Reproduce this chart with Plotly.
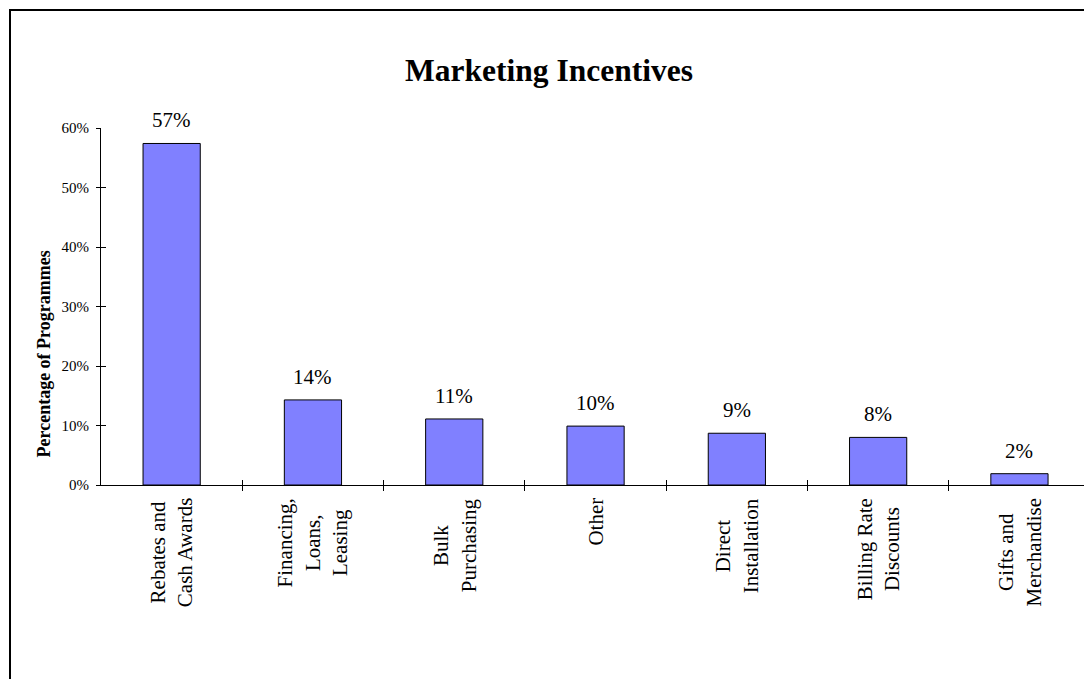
import plotly.graph_objects as go

# Share of programmes offering each kind of marketing incentive (%)
categories = [
    "Rebates and<br>Cash Awards",
    "Financing,<br>Loans,<br>Leasing",
    "Bulk<br>Purchasing",
    "Other",
    "Direct<br>Installation",
    "Billing Rate<br>Discounts",
    "Gifts and<br>Merchandise",
]
shares = [57.4, 14.3, 11.1, 9.9, 8.7, 8.0, 1.9]
y_ticks = [0, 10, 20, 30, 40, 50, 60]
y_tick_text = [f"{t}%" for t in y_ticks]

FONT = "Liberation Serif, Times New Roman, serif"
W, H = 1084, 679
ML, MR, MT, MB = 101, 0, 128, 194

positions = list(range(len(categories)))
boundaries = [p + 0.5 for p in positions]

fig = go.Figure()
fig.add_trace(go.Bar(
    x=positions, y=shares, width=0.405,
    marker=dict(color="#8080FF", line=dict(color="#000000", width=1)),
    hoverinfo="skip", showlegend=False,
))
# companion trace that carries the inner half of the crossing tick marks
fig.add_trace(go.Scatter(
    x=positions, y=shares, mode="none", xaxis="x2", yaxis="y2",
    hoverinfo="skip", showlegend=False,
))

annotations = []
for p, v in zip(positions, shares):
    annotations.append(dict(
        x=p, y=v, xref="x", yref="y", text=f"{v:.0f}%", showarrow=False,
        yanchor="bottom", yshift=9, font=dict(family=FONT, size=21, color="black"),
    ))
for p, c in zip(positions, categories):
    annotations.append(dict(
        x=p, y=0, xref="x", yref="y", text=c, showarrow=False, textangle=-90,
        align="center", xanchor="center", yanchor="top", yshift=-11,
        font=dict(family=FONT, size=21, color="black"),
    ))
plot_w = W - ML - MR
plot_h = H - MT - MB
annotations.append(dict(
    x=(43 - ML) / plot_w, y=(H - MB - 354.5) / plot_h, xref="paper", yref="paper",
    text="<b>Percentage of Programmes</b>", showarrow=False, textangle=-90,
    xanchor="center", yanchor="middle", font=dict(family=FONT, size=18, color="black"),
))

x_range = [-0.5, -0.5 + plot_w / 141.3]
axis_common = dict(showgrid=False, zeroline=False)

fig.update_layout(
    width=W, height=H,
    margin=dict(l=ML, r=MR, t=MT, b=MB),
    paper_bgcolor="white", plot_bgcolor="white",
    title=dict(
        text="<b>Marketing Incentives</b>", x=549 / W, xanchor="center",
        y=1 - 70 / H, yanchor="middle",
        font=dict(family=FONT, size=31.5, color="black"),
    ),
    xaxis=dict(
        range=x_range, tickmode="array", tickvals=boundaries, showticklabels=False,
        ticks="outside", ticklen=5, tickcolor="black", tickwidth=1,
        showline=True, linecolor="black", linewidth=1, **axis_common,
    ),
    xaxis2=dict(
        range=x_range, overlaying="x", anchor="y2", tickmode="array",
        tickvals=boundaries, showticklabels=False, ticks="inside", ticklen=5,
        tickcolor="black", tickwidth=1, showline=False, side="bottom", **axis_common,
    ),
    yaxis=dict(
        range=[0, 60], tickmode="array", tickvals=y_ticks, ticktext=y_tick_text,
        ticks="outside", ticklen=4, tickcolor="black", tickwidth=1,
        showline=True, linecolor="black", linewidth=1, ticklabelstandoff=4,
        tickfont=dict(family=FONT, size=15, color="black"), **axis_common,
    ),
    yaxis2=dict(
        range=[0, 60], overlaying="y", anchor="x2", tickmode="array",
        tickvals=y_ticks, showticklabels=False, ticks="inside", ticklen=5,
        tickcolor="black", tickwidth=1, showline=False, side="left", **axis_common,
    ),
    annotations=annotations,
    shapes=[dict(
        type="rect", xref="paper", yref="paper",
        x0=(10 - ML) / plot_w, x1=(W + 20 - ML) / plot_w,
        y0=(H - MB - (H + 20)) / plot_h, y1=(H - MB - 10) / plot_h,
        line=dict(color="black", width=2), fillcolor="rgba(0,0,0,0)", layer="above",
    )],
)

fig.write_html("out.html")
